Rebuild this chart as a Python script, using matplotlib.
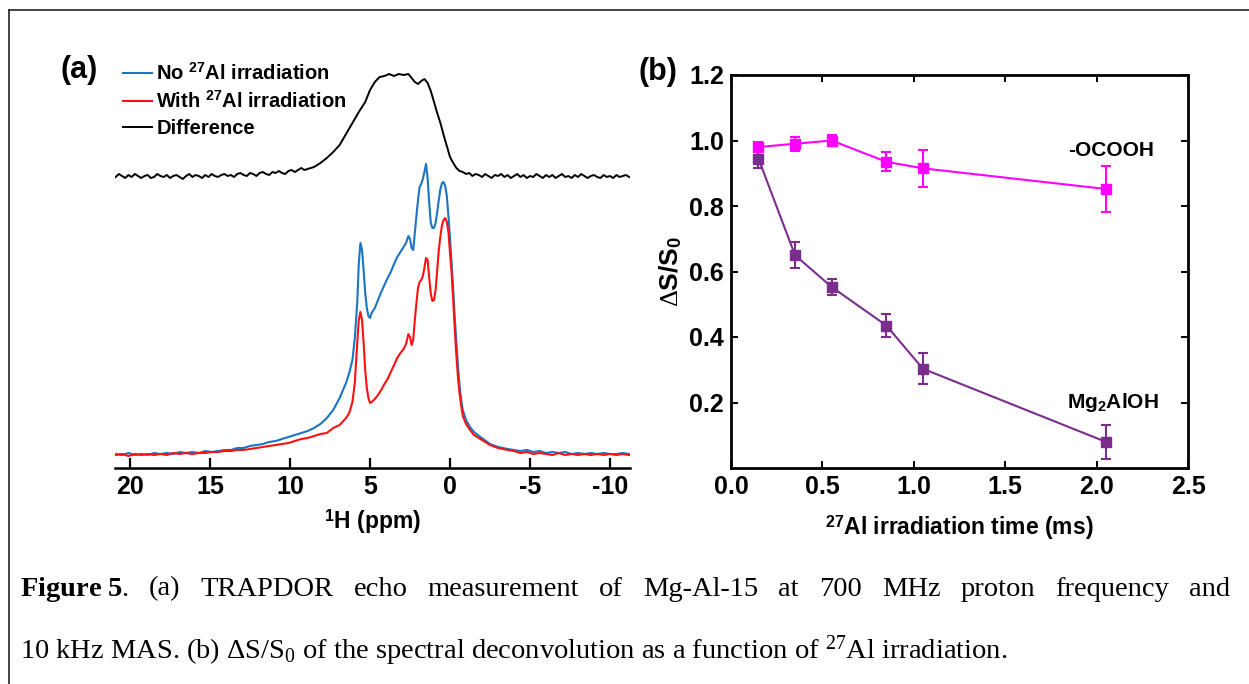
import numpy as np
import matplotlib
matplotlib.use('Agg')
import matplotlib.pyplot as plt
from matplotlib.lines import Line2D

plt.rcParams['font.family'] = ['Liberation Sans', 'DejaVu Sans']
plt.rcParams['font.weight'] = 'normal'
plt.rcParams['mathtext.fontset'] = 'custom'
plt.rcParams['mathtext.rm'] = 'Liberation Serif'
plt.rcParams['mathtext.it'] = 'Liberation Serif:italic'
plt.rcParams['mathtext.bf'] = 'Liberation Serif:bold'
plt.rcParams['mathtext.sf'] = 'Liberation Sans:bold'

# ---- panel (a): 1H spectra (arbitrary units) ----
base_ppm_left = [20.9, 20.5, 20.1, 19.7, 19.3, 18.9, 18.5, 18.1, 17.7, 17.3, 16.9, 16.5,
                 16.1, 15.7, 15.3, 14.9, 14.5, 14.1, 13.7, 13.3, 12.9, 12.5, 12.1, 11.7,
                 11.3, 10.9, 10.5, 10.1, 9.7, 9.3, 8.9, 8.5, 8.1, 7.7, 7.3, 6.9, 6.5]
base_ppm_right = [-4.0, -4.4, -4.8, -5.2, -5.6, -6.0, -6.4, -6.8, -7.2, -7.6, -8.0, -8.4,
                  -8.8, -9.2, -9.6, -10.0, -10.4, -10.8, -11.2]

peak_ppm = [6.3, 6.1, 5.95, 5.8, 5.7, 5.6, 5.5, 5.4, 5.3, 5.2, 5.1, 5.0, 4.9, 4.7, 4.5,
            4.3, 4.1, 3.9, 3.7, 3.5, 3.3, 3.1, 2.9, 2.75, 2.6, 2.5, 2.4, 2.3, 2.2, 2.1,
            2.0, 1.9, 1.8, 1.7, 1.6, 1.5, 1.4, 1.3, 1.2, 1.1, 1.0, 0.9, 0.8, 0.7, 0.6,
            0.5, 0.4, 0.3, 0.2, 0.1, 0.0, -0.1, -0.2, -0.3, -0.4, -0.5, -0.6, -0.7,
            -0.8, -1.0, -1.25, -1.5, -1.9, -2.5, -3.0, -3.6]

no_irr = ([14, 13, 15, 13, 14, 13, 15, 14, 15, 14, 16, 15, 16, 15, 17, 16, 17, 18, 18,
           20, 20, 22, 23, 24, 26, 27, 29, 31, 33, 35, 37, 40, 44, 50, 58, 70, 85]
          + [95, 108, 130, 165, 205, 225, 218, 198, 175, 160, 152, 150, 155, 160, 168,
             176, 183, 190, 196, 204, 211, 216, 221, 225, 232, 229, 220, 218, 235, 252,
             268, 281, 284, 289, 296, 304, 290, 265, 245, 240, 240, 245, 256, 268, 279,
             285, 286, 282, 272, 252, 230, 205, 178, 150, 125, 101, 82, 68,
             58, 48, 41, 36, 31, 24, 21, 19]
          + [18, 17, 18, 16, 17, 15, 16, 15, 16, 14, 15, 14, 15, 14, 15, 14, 14, 15, 14])

with_irr = ([13, 14, 12, 14, 13, 14, 13, 14, 13, 15, 14, 15, 14, 15, 15, 16, 16, 17, 17,
             18, 18, 19, 20, 21, 22, 23, 24, 25, 27, 29, 30, 32, 34, 35, 40, 43, 50]
            + [55, 66, 85, 125, 148, 156, 148, 125, 98, 80, 70, 65, 66, 69, 73,
               78, 84, 89, 96, 103, 110, 115, 119, 124, 134, 131, 123, 128, 148, 165,
               180, 186, 188, 192, 200, 210, 208, 190, 174, 167, 168, 178, 198, 218, 232,
               243, 248, 250, 246, 236, 215, 195, 168, 138, 112, 90, 74, 62,
               52, 44, 38, 33, 29, 23, 20, 18]
            + [17, 15, 16, 14, 15, 14, 13, 15, 13, 14, 13, 14, 13, 14, 13, 14, 13, 14, 13])

diff_ppm = [20.9, 20.7, 20.5, 20.3, 20.1, 19.9, 19.7, 19.5, 19.3, 19.1, 18.9, 18.7, 18.5,
            18.3, 18.1, 17.9, 17.7, 17.5, 17.3, 17.1, 16.9, 16.7, 16.5, 16.3, 16.1, 15.9,
            15.7, 15.5, 15.3, 15.1, 14.9, 14.7, 14.5, 14.3, 14.1, 13.9, 13.7, 13.5, 13.3,
            13.1, 12.9, 12.7, 12.5, 12.3, 12.1, 11.9, 11.7, 11.5, 11.3, 11.1, 10.9, 10.7,
            10.5, 10.3, 10.1, 9.9, 9.7, 9.5, 9.3, 9.1, 8.9, 8.5, 8.1, 7.7, 7.3, 6.9, 6.5,
            6.1, 5.7, 5.3, 5.0, 4.7, 4.4, 4.1, 3.8, 3.5, 3.2, 2.9, 2.6, 2.4, 2.2, 2.0, 1.8,
            1.6, 1.4, 1.2, 1.0, 0.8, 0.6, 0.4, 0.2, 0.0, -0.2, -0.4, -0.6, -0.8, -1.0,
            -1.2, -1.4, -1.6, -1.8, -2.0, -2.2, -2.4, -2.6, -2.8, -3.0, -3.2, -3.4, -3.6,
            -3.8, -4.0, -4.2, -4.4, -4.6, -4.8, -5.0, -5.2, -5.4, -5.6, -5.8, -6.0, -6.2,
            -6.4, -6.6, -6.8, -7.0, -7.2, -7.4, -7.6, -7.8, -8.0, -8.2, -8.4, -8.6, -8.8,
            -9.0, -9.2, -9.4, -9.6, -9.8, -10.0, -10.2, -10.4, -10.6, -10.8, -11.0, -11.2]
diff_int = [291, 294, 292, 290, 293, 291, 294, 292, 290, 292, 293, 290, 291, 294, 292,
            291, 293, 290, 292, 293, 291, 289, 292, 294, 291, 293, 292, 290, 293, 291,
            294, 292, 291, 293, 294, 292, 293, 291, 294, 295, 293, 292, 295, 294, 292,
            295, 296, 294, 293, 296, 295, 297, 295, 294, 297, 298, 296, 298, 300, 298,
            299, 301, 305, 310, 316, 323, 334, 345, 356, 366, 378, 386, 391, 392, 394,
            392, 394, 393, 394, 390, 386, 384, 387, 389, 385, 377, 366, 355, 345, 333,
            322, 311, 305, 300, 297, 296, 294, 295, 292, 294, 293, 291, 294, 292, 290,
            293, 292, 294, 291, 293, 290, 292, 294, 291, 293, 290, 292, 291, 294, 292,
            290, 293, 291, 293, 290, 292, 294, 291, 292, 290, 293, 291, 294, 292, 290,
            292, 293, 291, 290, 293, 291, 292, 290, 293, 291, 292, 293, 291]

spec_ppm = base_ppm_left + peak_ppm + base_ppm_right

# ---- panel (b): TRAPDOR dephasing ----
t_ms = [0.15, 0.35, 0.55, 0.85, 1.05, 2.05]
ocooh = [0.98, 0.99, 1.00, 0.935, 0.915, 0.852]
ocooh_err = [0.014, 0.022, 0.016, 0.029, 0.056, 0.069]
mg2aloh = [0.945, 0.65, 0.553, 0.435, 0.303, 0.080]
mg2aloh_err = [0.03, 0.039, 0.025, 0.036, 0.048, 0.051]

caption_line1 = [r'$\mathbf{Figure\ 5}$.', '(a)', 'TRAPDOR', 'echo',
                 'measurement', 'of', 'Mg-Al-15', 'at', '700', 'MHz', 'proton',
                 'frequency', 'and']
caption_line2 = r'10 kHz MAS. (b) ΔS/S$_0$ of the spectral deconvolution as a function of $^{27}$Al irradiation.'

W, H = 1249, 684
fig = plt.figure(figsize=(W / 100, H / 100), dpi=100)

# outer frame (top and left edge only visible in the page crop)
fig.add_artist(Line2D([9 / W, 9 / W], [0, 1 - 10 / H], transform=fig.transFigure,
                      color='#222222', lw=1.2))
fig.add_artist(Line2D([9 / W, 1], [1 - 10 / H, 1 - 10 / H], transform=fig.transFigure,
                      color='#222222', lw=1.2))

# panel (a)
ax1 = fig.add_axes([115 / W, 1 - 468 / H, 515 / W, 408 / H])
ax1.plot(spec_ppm, no_irr, color='#1B75C3', lw=1.5, label=r'No $^{\mathsf{27}}$Al irradiation')
ax1.plot(spec_ppm, with_irr, color='#FF1010', lw=1.5, label=r'With $^{\mathsf{27}}$Al irradiation')
ax1.plot(diff_ppm, diff_int, color='black', lw=1.4, label='Difference')
ax1.set_xlim(20.94, -11.25)
ax1.set_ylim(0, 408)
for s in ['top', 'left', 'right']:
    ax1.spines[s].set_visible(False)
ax1.spines['bottom'].set_linewidth(1.8)
ax1.set_yticks([])
ax1.set_xticks([20, 15, 10, 5, 0, -5, -10])
ax1.set_xticklabels(['20', '15', '10', '5', '0', '-5', '-10'], fontweight='bold')
ax1.tick_params(axis='x', direction='in', length=7, width=1.6, labelsize=18, pad=5)
ax1.set_xlabel(r'$^{\mathsf{1}}$H (ppm)', fontsize=16.5, fontweight='bold', labelpad=6)
leg = ax1.legend(loc='upper left', bbox_to_anchor=(123 / W, 1 - 63 / H),
                 bbox_transform=fig.transFigure, frameon=False,
                 prop={'size': 14.5, 'weight': 'bold'},
                 handlelength=1.45, handletextpad=0.2, labelspacing=0.33,
                 borderpad=0, borderaxespad=0)
fig.text(79 / W, 1 - 70 / H, '(a)', fontsize=22, fontweight='bold', ha='center', va='center')

# panel (b)
ax2 = fig.add_axes([731 / W, 1 - 468 / H, 457 / W, 393 / H])
ax2.errorbar(t_ms, mg2aloh, yerr=mg2aloh_err, color='#7B2D8E', marker='s', ms=6.5,
             lw=1.5, capsize=3.5, elinewidth=1.5, capthick=1.5)
ax2.errorbar(t_ms, ocooh, yerr=ocooh_err, color='#FF00FF', marker='s', ms=6.5,
             lw=1.5, capsize=3.5, elinewidth=1.5, capthick=1.5)
ax2.set_xlim(0, 2.5)
ax2.set_ylim(0, 1.2)
ax2.set_xticks([0.0, 0.5, 1.0, 1.5, 2.0, 2.5])
ax2.set_xticklabels(['0.0', '0.5', '1.0', '1.5', '2.0', '2.5'], fontweight='bold')
ax2.set_yticks([0.2, 0.4, 0.6, 0.8, 1.0, 1.2])
ax2.set_yticklabels(['0.2', '0.4', '0.6', '0.8', '1.0', '1.2'], fontweight='bold')
for s in ax2.spines.values():
    s.set_linewidth(2.0)
ax2.tick_params(direction='in', length=5, width=1.4, labelsize=18, pad=5,
                top=True, right=True)
ax2.set_xlabel(r'$^{\mathsf{27}}$Al irradiation time (ms)', fontsize=16.5,
               fontweight='bold', labelpad=10)
ax2.set_ylabel(r'$\Delta$S/S$_{\mathsf{0}}$', fontsize=19, fontweight='bold', labelpad=4)
ax2.text(2.08, 0.968, '-OCOOH', fontsize=15, fontweight='bold', ha='center', va='center')
ax2.text(2.09, 0.2, r'Mg$_{\mathsf{2}}$AlOH', fontsize=15, fontweight='bold',
         ha='center', va='center')
fig.text(658 / W, 1 - 72 / H, '(b)', fontsize=22, fontweight='bold', ha='center', va='center')

# caption: first line justified between the page margins
cap_words = [fig.text(0, 1 - 589 / H, w, family='Liberation Serif', fontsize=20.5,
                      ha='left', va='center') for w in caption_line1]
fig.canvas.draw()
rend = fig.canvas.get_renderer()
widths = [t.get_window_extent(rend).width for t in cap_words]
gap = (1210 - sum(widths)) / (len(cap_words) - 1)
xpos = 20
for t, w in zip(cap_words, widths):
    t.set_x(xpos / W)
    xpos += w + gap
fig.text(20 / W, 1 - 651 / H, caption_line2, family='Liberation Serif', fontsize=20.5,
         ha='left', va='center')

fig.savefig('out.png', dpi=100)
